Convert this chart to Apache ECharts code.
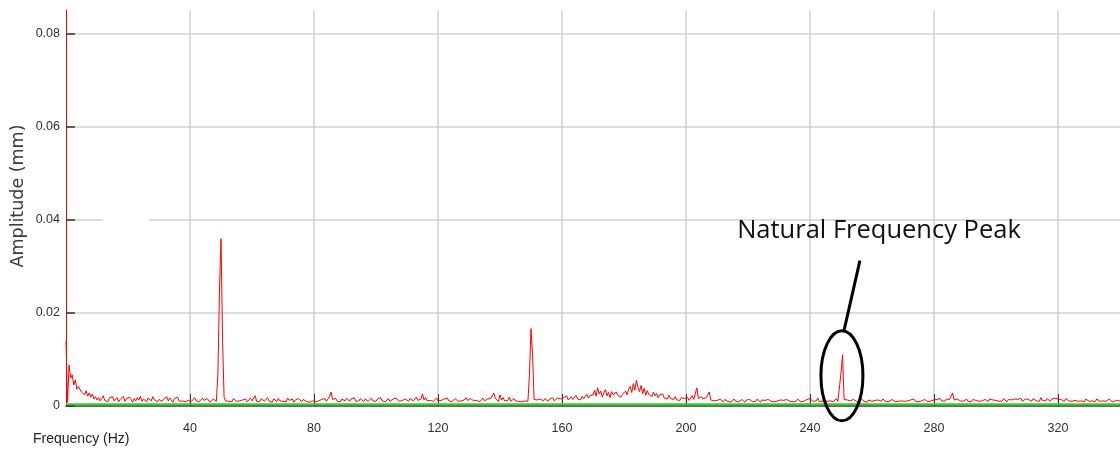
<!DOCTYPE html>
<html><head><meta charset="utf-8">
<script src="https://cdn.jsdelivr.net/npm/echarts@6/dist/echarts.min.js"></script>
<style>html,body{margin:0;padding:0;background:#fff}#c{width:1120px;height:452px}</style>
</head><body><div id="c"></div><script>
// Frequency grid of the spectrum (Hz per sample)
const freqStepHz = 0.5;
// Amplitude spectrum in micrometres, one value per 0.5 Hz from 0 to 340 Hz
const amplitudeUm = [
 14.0,0.8,8.8,6.0,6.7,4.5,5.6,3.6,4.2,3.9,3.0,3.4,2.4,3.3,2.1,2.8,1.9,2.6,1.5,2.0,
 1.3,1.8,1.1,1.6,2.2,1.2,1.4,0.9,1.7,1.3,2.0,1.1,1.5,1.8,0.9,1.4,1.2,2.1,1.0,1.6,
 1.2,1.9,1.4,0.8,1.6,1.1,1.8,1.3,2.1,1.0,1.5,1.2,0.9,1.7,1.4,1.1,2.0,1.3,1.6,0.9,
 1.4,1.8,1.0,1.5,1.2,2.0,1.1,1.7,1.3,0.8,1.6,1.2,1.9,1.0,1.4,1.1,1.5,0.9,1.3,1.2,
 1.6,1.0,1.4,1.8,1.1,1.5,0.9,1.3,1.7,1.2,1.0,1.6,1.3,0.8,1.2,1.5,1.1,1.0,6.7,24.5,
 35.9,14.2,1.8,1.1,1.5,1.0,1.3,0.9,1.6,1.2,1.0,1.4,1.1,0.8,1.3,1.0,1.5,0.9,1.2,1.7,
 1.1,1.5,2.2,1.0,1.3,0.9,1.6,1.2,1.0,1.4,1.8,1.1,1.3,0.8,1.5,1.2,1.0,1.6,1.1,1.3,
 1.0,1.4,0.9,1.7,1.2,1.1,1.5,0.8,1.3,1.0,1.6,1.2,0.9,1.4,1.1,1.0,1.3,0.8,1.2,1.1,
 1.0,0.9,1.3,1.1,0.8,1.4,1.2,1.6,1.0,1.3,2.0,3.0,1.4,1.1,1.6,1.0,1.3,0.9,1.5,1.2,
 1.1,1.7,1.3,1.0,1.5,1.2,1.8,1.0,1.4,1.1,1.6,1.3,0.9,1.5,1.2,1.0,1.4,1.7,1.1,1.3,
 1.0,1.5,1.2,1.8,1.1,1.4,0.9,1.3,1.6,1.0,1.2,1.5,1.1,1.7,1.3,1.0,1.4,1.2,0.9,1.5,
 1.2,1.0,1.6,1.3,1.1,1.4,1.9,1.2,1.0,1.5,2.6,1.3,1.8,1.1,1.4,1.2,1.6,1.0,1.3,1.7,
 1.1,1.4,1.2,1.0,1.5,1.3,1.7,1.1,1.4,0.9,1.3,1.6,1.2,1.0,1.4,1.1,1.5,1.3,1.8,1.2,
 1.0,1.6,1.3,1.1,1.5,1.2,1.4,0.9,1.3,1.7,1.1,1.0,1.5,1.2,1.6,1.4,2.8,1.6,1.3,1.0,
 2.4,1.3,1.8,1.1,1.5,1.2,1.9,1.0,1.3,1.6,1.1,1.4,1.0,1.2,0.9,1.3,1.1,0.8,1.0,6.7,
 16.6,11.0,1.4,1.0,1.3,0.9,1.5,1.2,1.1,1.6,1.3,1.0,1.5,1.2,1.8,1.1,1.4,1.7,1.3,1.5,
 1.2,1.8,1.4,2.2,1.3,1.6,2.0,1.4,1.7,2.3,1.5,1.9,1.3,2.1,1.6,1.8,2.5,1.7,2.2,1.9,
 2.4,3.4,2.1,3.9,2.6,3.2,1.9,2.8,3.5,2.2,2.9,1.8,3.1,2.4,2.0,3.0,2.3,2.7,1.9,2.5,
 2.8,3.2,2.4,3.6,4.2,2.9,4.8,3.4,5.5,4.0,3.1,4.4,2.6,3.8,2.3,3.3,2.5,2.9,2.0,3.0,
 2.2,2.7,1.8,2.4,2.0,2.6,1.7,2.1,1.5,2.3,1.6,1.9,1.4,2.0,1.3,1.7,1.2,1.8,1.4,1.6,
 1.3,1.8,1.2,1.5,2.2,1.4,1.7,3.9,1.6,1.3,2.0,1.5,1.2,1.8,1.4,3.0,1.3,1.6,1.1,1.4,
 1.2,1.0,1.5,1.3,0.9,1.4,1.1,1.0,1.3,0.8,1.2,1.5,1.0,1.3,0.9,1.1,1.4,1.2,0.8,1.3,
 1.0,1.4,1.1,0.9,1.2,1.0,1.5,1.1,0.8,1.3,1.0,1.2,0.9,1.4,1.1,1.0,1.3,0.9,1.2,1.1,
 0.9,1.3,1.0,1.2,0.8,1.4,1.1,1.0,1.3,0.9,1.2,1.0,1.5,1.1,0.9,1.3,1.0,1.2,1.4,1.1,
 1.6,1.2,1.0,1.4,1.1,1.7,0.9,1.3,1.0,1.5,1.2,1.0,1.4,1.1,1.3,0.9,1.2,1.6,1.0,1.3,
 7.1,11.0,1.4,1.0,1.3,1.6,1.1,0.9,1.4,1.2,1.0,1.3,0.9,1.5,1.1,1.0,1.2,0.8,1.3,1.1,
 1.0,1.4,1.2,0.9,1.3,1.1,1.0,1.5,1.2,0.9,1.3,1.0,1.2,1.4,1.1,0.9,1.2,1.0,1.3,1.1,
 1.2,1.0,1.4,1.1,0.9,1.3,1.1,1.5,1.0,1.2,0.9,1.3,1.1,1.0,1.4,1.2,0.9,1.3,1.1,1.5,
 1.3,1.0,1.4,1.2,1.6,1.1,1.3,1.0,1.5,1.2,1.4,1.1,2.8,1.3,1.0,1.5,1.2,1.1,1.4,1.0,
 1.2,1.5,1.0,1.3,0.9,1.4,1.1,1.2,1.6,1.0,1.3,1.1,0.9,1.4,1.2,1.0,1.5,1.1,1.3,1.0,
 1.2,1.4,1.0,1.3,1.1,1.6,1.2,0.9,1.4,1.1,1.3,1.0,1.5,1.2,1.4,1.1,1.7,1.0,1.3,1.5,
 1.1,1.4,1.2,1.0,1.6,1.3,1.1,1.5,1.0,1.8,1.2,1.4,1.1,1.6,1.3,1.0,1.5,1.2,1.7,1.3,
 1.5,1.1,1.4,1.2,1.0,1.6,1.3,1.1,1.5,1.0,1.3,1.2,1.6,1.0,1.4,1.1,1.3,0.9,1.5,1.2,
 1.0,1.4,1.1,1.3,0.9,1.5,1.2,1.0,1.4,1.1,1.3,1.0,1.2,1.5,1.1,0.9,1.3,1.1,1.4,1.2,
 1.0
];
// Constant reference (green) level in mm
const thresholdMm = 0.0004;
const xRangeHz = [0, 340];
const xTicks = [40, 80, 120, 160, 200, 240, 280, 320];
const yTicks = [0, 0.02, 0.04, 0.06, 0.08];
const yMaxMm = 0.085;
const xAxisTitle = 'Frequency (Hz)';
const yAxisTitle = 'Amplitude (mm)';
const annotationText = 'Natural Frequency Peak';

const spectrum = amplitudeUm.map((v, i) => [i * freqStepHz, v / 1000]);
const thresholdLine = [[xRangeHz[0], thresholdMm], [xRangeHz[1], thresholdMm]];

const chart = echarts.init(document.getElementById('c'), null, {renderer: 'canvas'});
const labelFont = {fontFamily: 'Liberation Sans, Arial, sans-serif', fontSize: 12.5, color: '#2e3038'};
chart.setOption({
  animation: false,
  backgroundColor: '#fff',
  grid: {left: 66, right: 0, top: 10, bottom: 46, containLabel: false, outerBoundsMode: 'none'},
  xAxis: {
    type: 'value', min: xRangeHz[0], max: xRangeHz[1], interval: 40,
    axisLine: {show: true, onZero: false, lineStyle: {color: '#3a3a3a', width: 1.5}},
    axisTick: {show: true, inside: true, length: 12, customValues: xTicks, lineStyle: {color: '#333', width: 1}},
    axisLabel: Object.assign({margin: 16, customValues: xTicks}, labelFont),
    splitLine: {show: true, lineStyle: {color: '#d0d0d0', width: 1.5}}
  },
  yAxis: {
    type: 'value', min: 0, max: yMaxMm, interval: 0.02,
    axisLine: {show: true, lineStyle: {color: '#ff0000', width: 1}},
    axisTick: {show: true, inside: true, length: 9, customValues: yTicks, lineStyle: {color: '#333', width: 1.5}},
    axisLabel: Object.assign({margin: 6, customValues: yTicks}, labelFont),
    splitLine: {show: true, showMinLine: false, lineStyle: {color: '#d0d0d0', width: 1.5}}
  },
  series: [
    {type: 'line', data: spectrum, showSymbol: false, symbol: 'none', sampling: 'none',
     lineStyle: {color: '#ff0000', width: 1}, z: 3},
    {type: 'line', data: thresholdLine, showSymbol: false, symbol: 'none',
     lineStyle: {color: '#22dd22', width: 2}, z: 4}
  ]
});

function px(f, a) { return chart.convertToPixel({gridIndex: 0}, [f, a]); }
const ell = px(250.3, 0.0065);
const txt = px(216.5, 0.0376);
const l1 = px(256.1, 0.0312);
const l2 = px(251.0, 0.0163);
const gapL = px(12, 0.04), gapR = px(26.8, 0.04);
chart.setOption({
  graphic: [
    {type: 'rect', z: 1, shape: {x: gapL[0], y: gapL[1] - 5, width: gapR[0] - gapL[0], height: 10}, style: {fill: '#fff'}},
    {type: 'text', x: 18, y: 196, rotation: Math.PI / 2, style: {text: yAxisTitle, font: '17.5px DejaVu Sans, sans-serif', fill: '#3a3a3a', textAlign: 'center', textVerticalAlign: 'middle'}},
    {type: 'text', left: 33, top: 432, style: {text: xAxisTitle, font: '14px Liberation Sans, Arial, sans-serif', fill: '#222'}},
    {type: 'text', z: 10, x: txt[0], y: txt[1], style: {text: annotationText, font: '25.5px Open Sans, sans-serif', fill: '#111', textVerticalAlign: 'middle'}},
    {type: 'line', z: 10, shape: {x1: l1[0], y1: l1[1], x2: l2[0], y2: l2[1]}, style: {stroke: '#000', lineWidth: 3}},
    {type: 'ellipse', z: 10, shape: {cx: ell[0], cy: ell[1], rx: 21, ry: 45}, style: {stroke: '#000', lineWidth: 3, fill: null}}
  ]
});
</script></body></html>
